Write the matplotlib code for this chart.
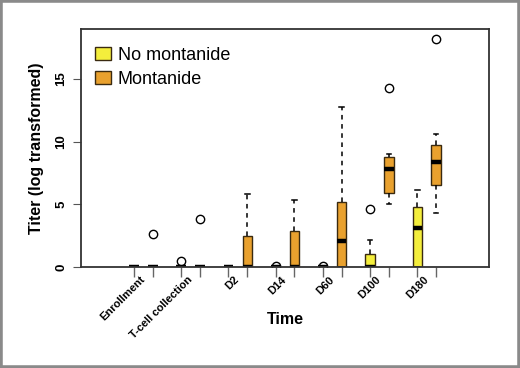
import matplotlib.pyplot as plt
from matplotlib.patches import Patch

plt.rcParams['font.family'] = ['Liberation Sans', 'DejaVu Sans']

timepoints = ["Enrollment", "T-cell collection", "D2", "D14", "D60", "D100", "D180"]

# box stats per time point: (whislo, q1, med, q3, whishi, fliers)
no_montanide = [
    (0, 0, 0, 0, 0, []),
    (0, 0, 0, 0, 0, [0.5]),
    (0, 0, 0, 0, 0, []),
    (0, 0, 0, 0, 0, [0.1]),
    (0, 0, 0, 0, 0, [0.1]),
    (0, 0, 0, 1.05, 2.15, [4.6]),
    (0, 0, 3.1, 4.75, 6.15, []),
]
montanide = [
    (0, 0, 0, 0, 0, [2.6]),
    (0, 0, 0, 0, 0, [3.8]),
    (0, 0, 0, 2.5, 5.8, []),
    (0, 0, 0, 2.85, 5.35, []),
    (0, 0, 2.05, 5.15, 12.8, []),
    (5.0, 5.9, 7.8, 8.8, 9.0, [14.3]),
    (4.3, 6.55, 8.4, 9.75, 10.6, [18.2]),
]

yellow = "#F4EE3C"
orange = "#E9A12E"

def to_stats(rows):
    out = []
    for lo, q1, med, q3, hi, fl in rows:
        out.append(dict(whislo=lo, q1=q1, med=med, q3=q3, whishi=hi, fliers=fl))
    return out

fig = plt.figure(figsize=(5.2, 3.68), dpi=100)
fig.patches.append(plt.Rectangle((0, 0), 1, 1, transform=fig.transFigure,
                                 fill=False, edgecolor="#8a8a8a", linewidth=4))
ax = fig.add_axes([0.1558, 0.2745, 0.7846, 0.6467])

n = len(timepoints)
pos_nm = [i for i in range(n)]
pos_m = [i + 0.4 for i in range(n)]

common = dict(widths=0.2, capwidths=0.1, patch_artist=True, manage_ticks=False,
              whiskerprops=dict(color="black", linestyle=(0, (3, 3)), linewidth=1.1),
              capprops=dict(color="black", linewidth=1.1),
              medianprops=dict(color="black", linewidth=3.2, solid_capstyle="butt"),
              flierprops=dict(marker="o", markerfacecolor="none", markeredgecolor="black",
                              markersize=6, markeredgewidth=1))

b1 = ax.bxp(to_stats(no_montanide), positions=pos_nm,
            boxprops=dict(facecolor=yellow, edgecolor="#3a2a10", linewidth=1), **common)
b2 = ax.bxp(to_stats(montanide), positions=pos_m,
            boxprops=dict(facecolor=orange, edgecolor="#3a2a10", linewidth=1), **common)

ax.set_xlim(-1.12, 7.52)
ax.set_ylim(0, 19)

ax.set_yticks([0, 5, 10, 15])
ax.set_yticklabels(["0", "5", "10", "15"], rotation=90, va="center", fontweight="bold", fontsize=9.5)
ax.tick_params(axis="y", length=6, color="#555555", pad=4)

ax.set_xticks(sorted(pos_nm + pos_m))
ax.set_xticks([p + 0.2 for p in pos_nm], minor=True)
ax.tick_params(axis="x", which="major", bottom=True, direction="out", length=7,
               width=1, color="#666666", labelbottom=False)
ax.set_xticklabels(timepoints, minor=True, rotation=45, ha="right", va="center",
                   rotation_mode="anchor", fontweight="bold", fontsize=8)
ax.tick_params(axis="x", which="minor", length=0, pad=8)

for s in ax.spines.values():
    s.set_color("#333333")
    s.set_linewidth(1.3)

ax.set_ylabel("Titer (log transformed)", fontweight="bold", fontsize=11.5, labelpad=8)
ax.set_xlabel("Time", fontweight="bold", fontsize=11.5)
ax.xaxis.set_label_coords(0.5, -0.19)

handles = [Patch(facecolor=yellow, edgecolor="#3a2a10", label="No montanide"),
           Patch(facecolor=orange, edgecolor="#3a2a10", label="Montanide")]
ax.legend(handles=handles, loc="upper left", bbox_to_anchor=(0.035, 0.925), frameon=False,
          fontsize=13, handlelength=0.85, handleheight=0.7, handletextpad=0.4,
          labelspacing=0.4, borderpad=0, borderaxespad=0)

fig.savefig("out.png", dpi=100)
